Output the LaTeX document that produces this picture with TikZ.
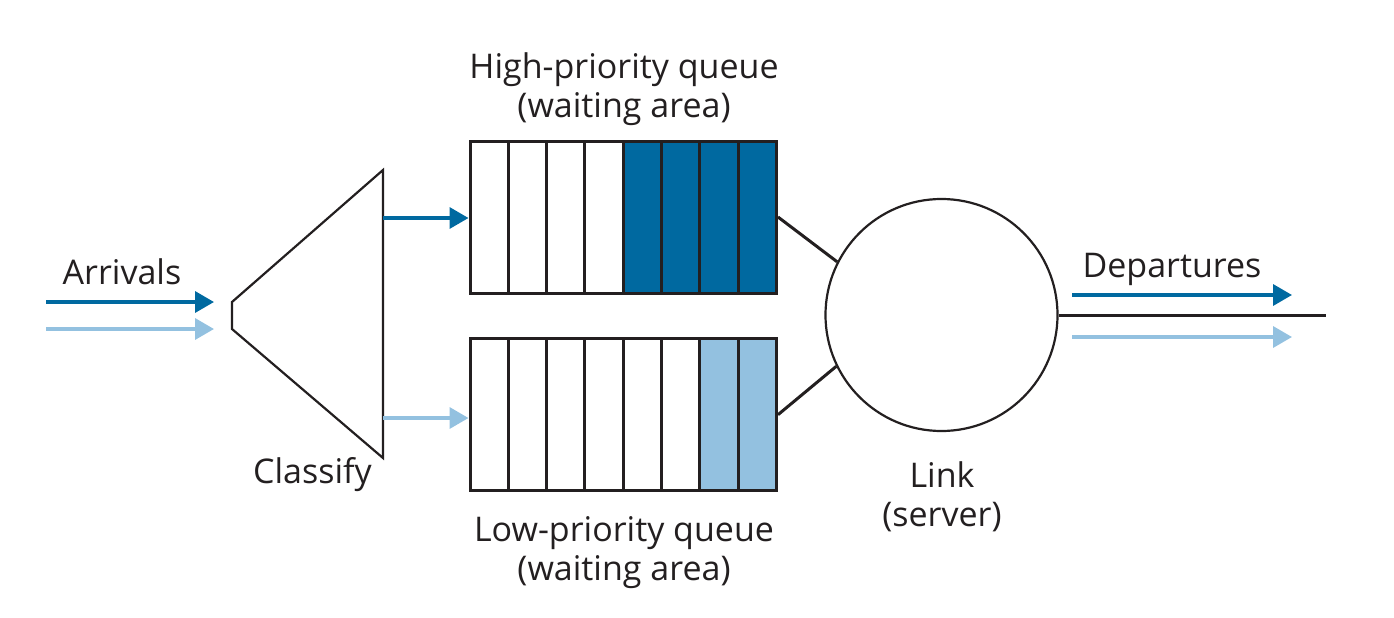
\documentclass[tikz,border=0pt]{standalone}
\usepackage{fontspec}
\setmainfont{Open Sans}
\usetikzlibrary{arrows.meta}
\definecolor{dblue}{RGB}{0,105,160}
\definecolor{lblue}{RGB}{147,193,224}
\definecolor{ink}{RGB}{35,31,32}
\newcommand{\twolines}[2]{\begin{tabular}[t]{@{}c@{}}#1\\#2\end{tabular}}
\begin{document}
\begin{tikzpicture}[x=1pt,y=-1pt,
  lbl/.style={font=\fontsize{34}{39}\selectfont, text=ink, inner sep=0pt},
  qbox/.style={draw=ink, line width=3pt, minimum width=306.5pt, minimum height=152pt, inner sep=0pt},
  flow/.style={line width=3.5pt, -{Triangle[length=19pt,width=21pt]}},
  thin/.style={draw=ink, line width=2.2pt},
  wire/.style={draw=ink, line width=3pt}]
\useasboundingbox (0,0) rectangle (1394,618);
% queues
\node[qbox] (hq) at (623.25,217) {};
\node[qbox] (lq) at (623.25,414.7) {};
\fill[dblue] (470+4*38.3125,141) rectangle (776.5,293);
\fill[lblue] (470+6*38.3125,338.7) rectangle (776.5,490.7);
\foreach \i in {1,...,7}{
  \draw[ink, line width=3pt] (470+\i*38.3125,141) -- (470+\i*38.3125,293);
  \draw[ink, line width=3pt] (470+\i*38.3125,338.7) -- (470+\i*38.3125,490.7);
}
\node[qbox] at (hq) {};
\node[qbox] at (lq) {};
% classifier
\coordinate (cl1) at (232,302);
\coordinate (cl2) at (383,170);
\coordinate (cl3) at (383,458);
\coordinate (cl4) at (232,329);
\draw[thin, line join=miter] (cl1) -- (cl2) -- (cl3) -- (cl4) -- cycle;
% link
\node[thin, circle, minimum size=232pt, inner sep=0pt] (link) at (941.5,315) {};
\draw[wire] (hq.east) -- (link.153.5);
\draw[wire] (lq.east) -- (link.206.5);
\coordinate (out) at (1326,315);
\draw[wire] (link.east) -- (out);
% flows
\coordinate (a1) at (46,302);
\coordinate (a1e) at (214,302);
\coordinate (a2) at (46,329);
\coordinate (a2e) at (214,329);
\draw[flow, dblue] (a1) -- (a1e);
\draw[flow, lblue] (a2) -- (a2e);
\coordinate (h1) at (383,218);
\coordinate (l1) at (383,418);
\draw[flow, dblue] (h1) -- (hq.west |- h1);
\draw[flow, lblue] (l1) -- (lq.west |- l1);
\coordinate (d1) at (1072,295);
\coordinate (d1e) at (1292,295);
\coordinate (d2) at (1072,337);
\coordinate (d2e) at (1292,337);
\draw[flow, dblue] (d1) -- (d1e);
\draw[flow, lblue] (d2) -- (d2e);
% labels
\node[lbl, anchor=base] (tarr) at (122,284) {Arrivals};
\node[lbl, anchor=base] (tdep) at (1172,277) {Departures};
\node[lbl, anchor=base] (tcls) at (312.5,483) {Classify};
\node[lbl, anchor=base] (thq) at (624,78) {\twolines{High-priority queue}{(waiting area)}};
\node[lbl, anchor=base] (tlq) at (624,541) {\twolines{Low-priority queue}{(waiting area)}};
\node[lbl, anchor=base] (tlink) at (942,487) {\twolines{Link}{(server)}};
\end{tikzpicture}
\end{document}
